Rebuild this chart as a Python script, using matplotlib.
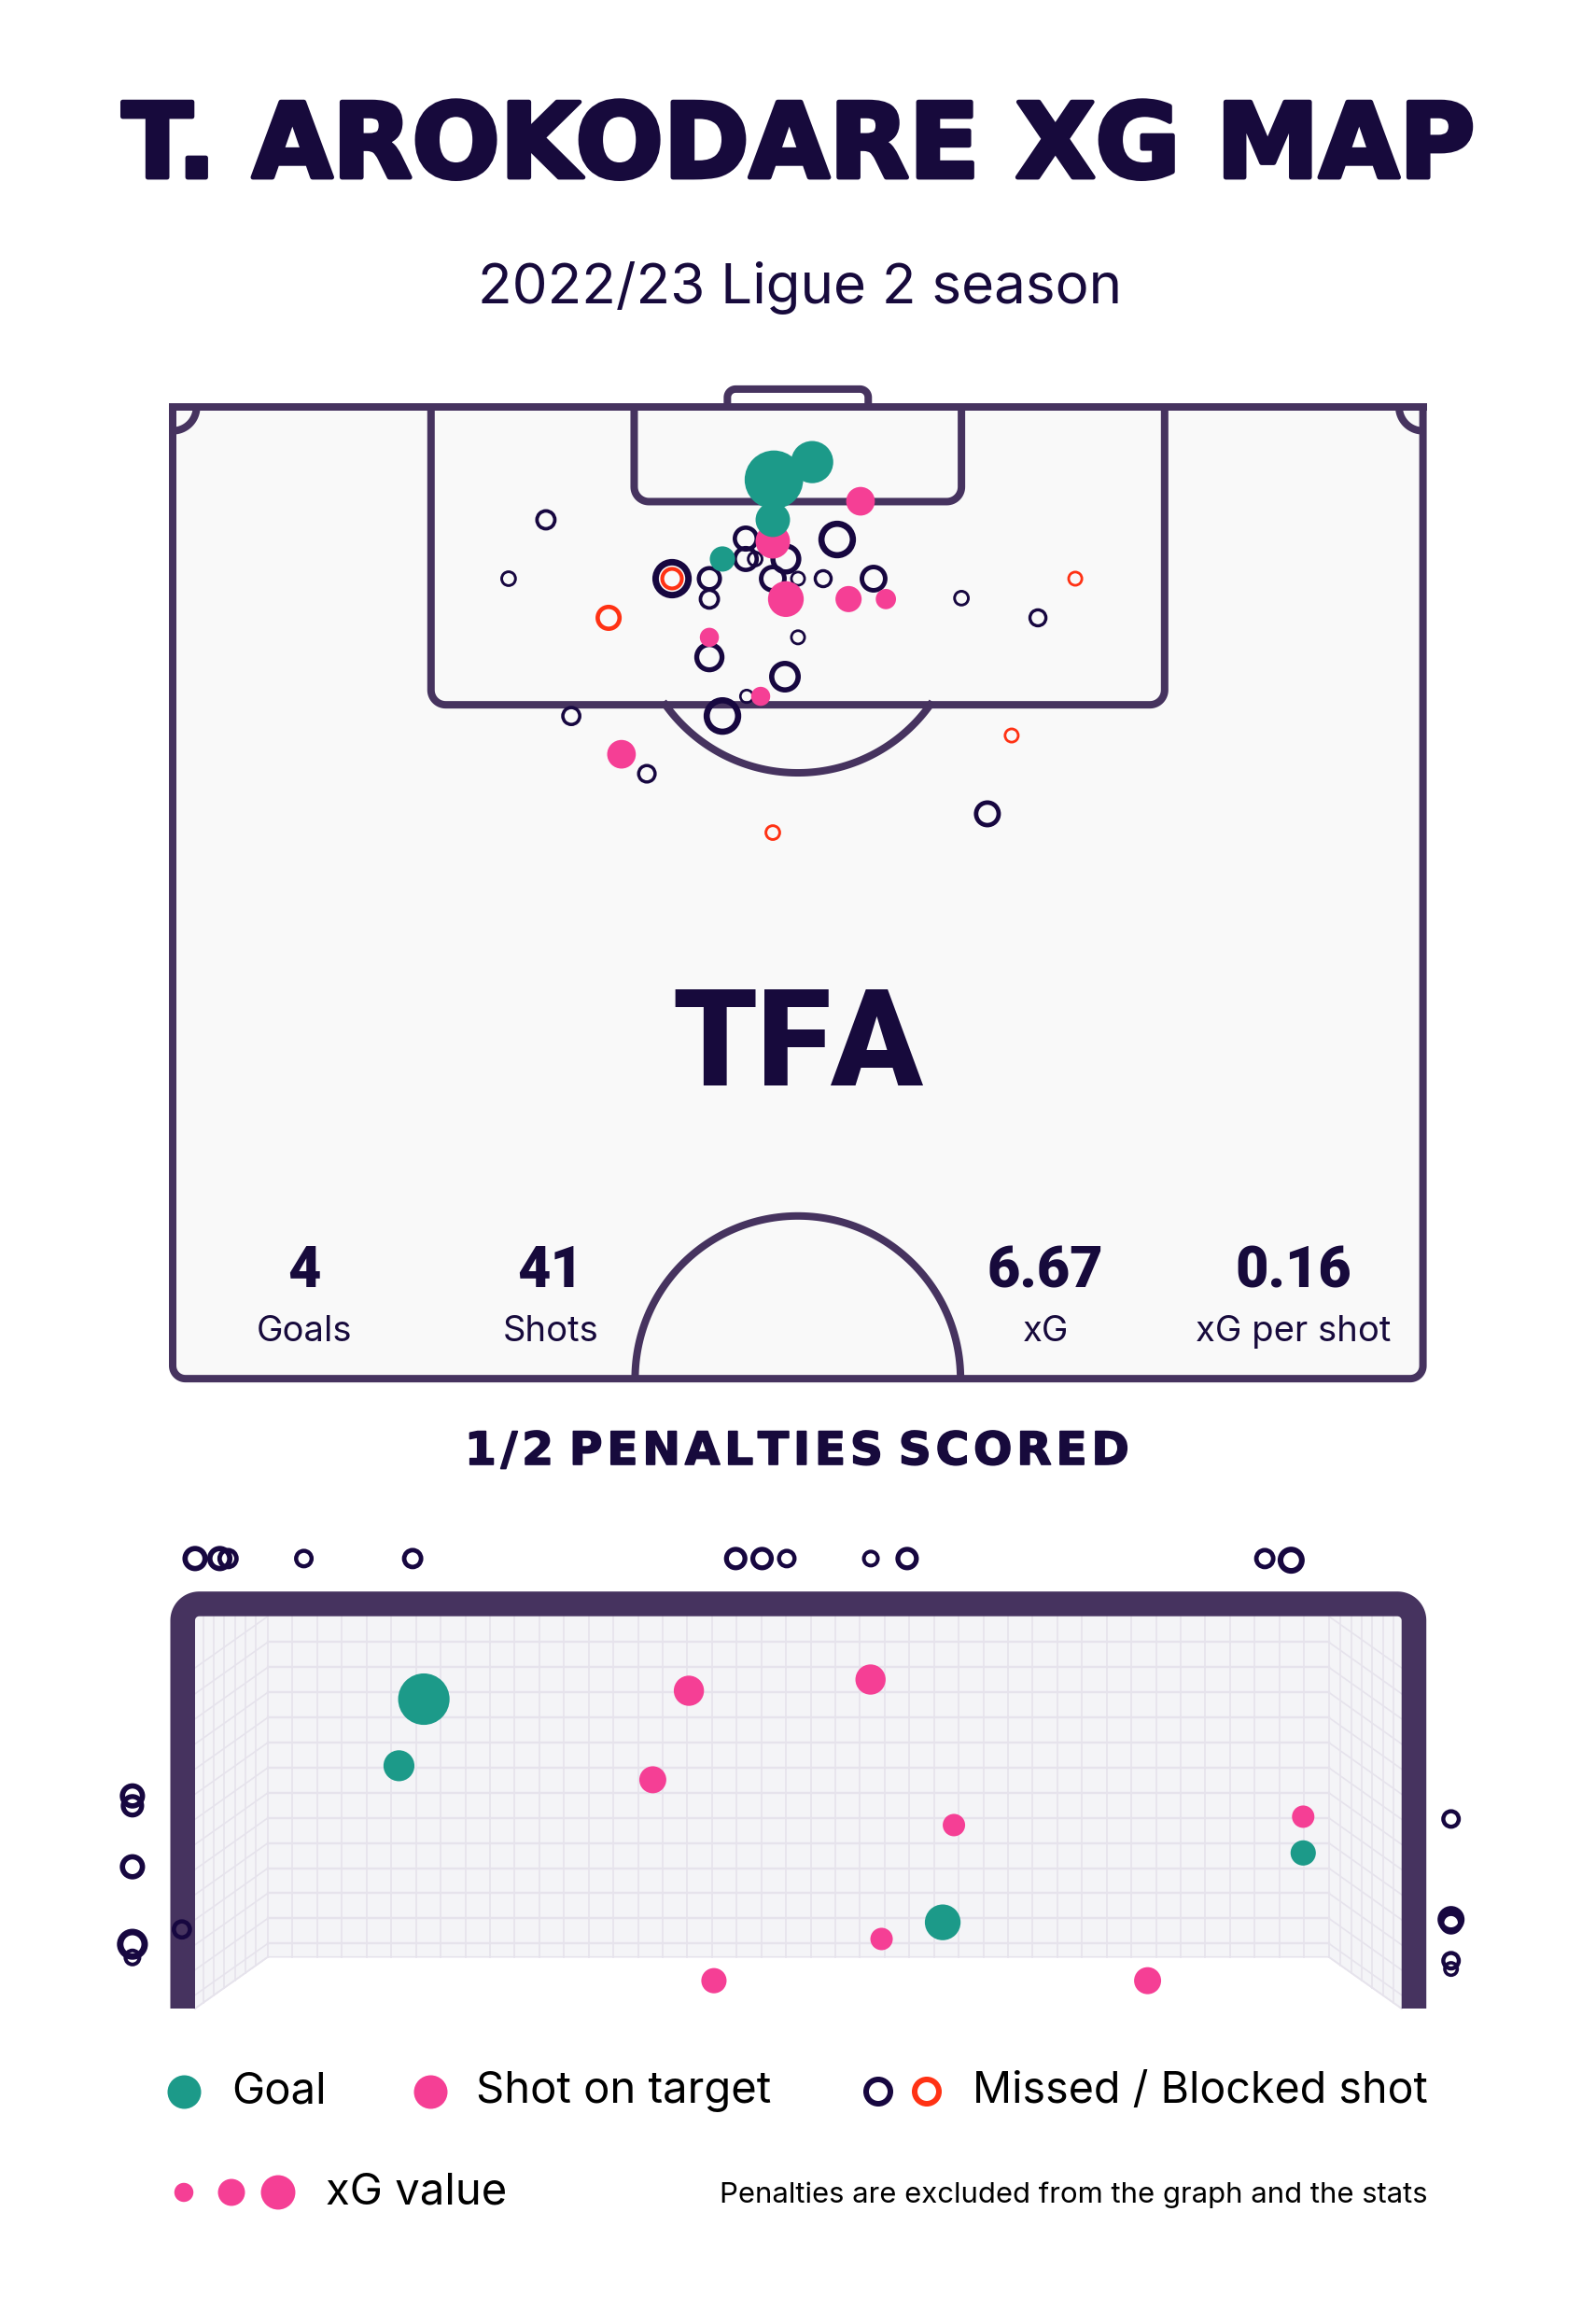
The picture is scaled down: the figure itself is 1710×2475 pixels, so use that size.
import numpy as np
import matplotlib.pyplot as plt
import matplotlib.patheffects as pe

W, H = 1710, 2475
DPI = 100
PT = 72 / DPI  # points per pixel

INK = '#170a3c'
LINE = '#46335f'
PITCH_BG = '#f9f9f9'
NET_BG = '#f4f4f7'
GRID = '#e6e3ec'
GOAL_C = '#1c9a89'
SOT_C = '#f53f95'
MISS_C = '#170740'
BLOCK_C = '#ff3214'

HEAVY = ['Roboto', 'DejaVu Sans']
REG = ['Inter', 'DejaVu Sans']

# ---------------- data: shots on the pitch (m across, m from goal line) -------------
goal_x = [32.70, 34.78, 32.64, 29.90]
goal_y = [3.96, 3.00, 6.14, 8.27]
goal_xg = [0.75, 0.39, 0.26, 0.14]

sot_x = [37.41, 32.64, 33.35, 36.76, 38.79, 29.19, 31.98, 24.41]
sot_y = [5.13, 7.31, 10.45, 10.45, 10.45, 12.53, 15.74, 18.89]
sot_xg = [0.18, 0.26, 0.28, 0.15, 0.09, 0.08, 0.08, 0.18]

miss_x = [20.30, 18.27, 27.16, 29.19, 29.19, 31.17, 31.17, 31.68, 33.35, 32.64, 34.01, 36.14,
          35.38, 38.12, 42.90, 47.06, 34.01, 29.19, 33.30, 31.22, 29.90, 21.68, 25.79, 44.31]
miss_y = [6.14, 9.34, 9.34, 9.34, 10.45, 7.16, 8.27, 8.27, 8.27, 9.34, 9.34, 7.21,
          9.34, 9.34, 10.40, 11.47, 12.53, 13.61, 14.67, 15.74, 16.81, 16.81, 19.95, 22.13]
miss_xg = [0.10, 0.06, 0.34, 0.14, 0.10, 0.15, 0.15, 0.06, 0.21, 0.17, 0.055, 0.31,
           0.08, 0.17, 0.06, 0.08, 0.055, 0.20, 0.22, 0.05, 0.31, 0.09, 0.085, 0.16]

block_x = [27.16, 23.71, 49.09, 45.63, 32.64]
block_y = [9.34, 11.47, 9.34, 17.87, 23.15]
block_xg = [0.12, 0.15, 0.055, 0.055, 0.06]

# ---------------- data: goal mouth (m from left post, m above ground) ----------------
gm_goal_x = [1.388, 1.237, 4.536, 6.723]
gm_goal_y = [1.877, 1.473, 0.523, 0.944]
gm_goal_v = [0.58, 0.21, 0.28, 0.14]

gm_sot_x = [2.996, 4.098, 2.777, 4.604, 4.165, 3.148, 5.779, 6.723]
gm_sot_y = [1.928, 1.996, 1.388, 1.113, 0.422, 0.169, 0.169, 1.164]
gm_sot_v = [0.20, 0.20, 0.16, 0.11, 0.11, 0.14, 0.16, 0.11]

gm_miss_x = [0.00, 0.15, 0.20, 0.66, 1.32, 3.28, 3.44, 3.59, 4.10, 4.32, 6.49, 6.65,
             -0.38, -0.38, -0.38, -0.38, -0.38, -0.08,
             7.62, 7.62, 7.62, 7.62, 7.62]
gm_miss_y = [2.73, 2.73, 2.73, 2.73, 2.73, 2.73, 2.73, 2.73, 2.73, 2.73, 2.73, 2.72,
             1.29, 1.23, 0.86, 0.39, 0.31, 0.48,
             1.15, 0.54, 0.52, 0.29, 0.24]
gm_miss_v = [0.14, 0.14, 0.10, 0.084, 0.10, 0.12, 0.12, 0.084, 0.069, 0.12, 0.10, 0.16,
             0.14, 0.12, 0.14, 0.21, 0.069, 0.09,
             0.084, 0.16, 0.12, 0.084, 0.055]

stat_values = ['4', '41', '6.67', '0.16']
stat_labels = ['Goals', 'Shots', 'xG', 'xG per shot']
legend_xg = [0.08, 0.16, 0.26]

# ---------------- helpers ----------------
SIZE_K = 72.4  # marker diameter in px for xG = 1 (area ~ xG)


def dot_s(v):
    d = SIZE_K * np.sqrt(np.asarray(v))
    return (d * PT) ** 2


def ring_s(v, ratio=0.165):
    d = SIZE_K * np.sqrt(np.asarray(v))
    lw = ratio * d
    return ((d - lw) * PT) ** 2, lw * PT


def px_axes(x0, y0, x1, y1):
    ax = fig.add_axes([x0 / W, 1 - y1 / H, (x1 - x0) / W, (y1 - y0) / H])
    ax.axis('off')
    return ax


def rounded(points, r, n=16):
    pts = np.asarray(points, dtype=float)
    xs, ys = [pts[0, 0]], [pts[0, 1]]
    for i in range(1, len(pts) - 1):
        p, q, s = pts[i - 1], pts[i], pts[i + 1]
        u = (p - q) / np.linalg.norm(p - q)
        v = (s - q) / np.linalg.norm(s - q)
        c = q + (u + v) * r
        a0 = np.arctan2(-v[1], -v[0])
        a1 = np.arctan2(-u[1], -u[0])
        da = (a1 - a0 + np.pi) % (2 * np.pi) - np.pi
        t = a0 + np.linspace(0, da, n)
        xs.extend(c[0] + r * np.cos(t))
        ys.extend(c[1] + r * np.sin(t))
    xs.append(pts[-1, 0])
    ys.append(pts[-1, 1])
    return np.array(xs), np.array(ys)


def fit_width(txt, target_px):
    bb = txt.get_window_extent(renderer=fig.canvas.get_renderer())
    txt.set_fontsize(txt.get_fontsize() * target_px / bb.width)


fig = plt.figure(figsize=(W / DPI, H / DPI), dpi=DPI, facecolor='white')

# ---------------- pitch ----------------
PW, PL = 68.0, 52.85
P_PX, P_OX, P_OY = 19.7, 185, 436
pbox = (150, 395, 1565, 1500)
pax = px_axes(*pbox)
pax.set_xlim((pbox[0] - P_OX) / P_PX, (pbox[2] - P_OX) / P_PX)
pax.set_ylim((pbox[3] - P_OY) / P_PX, (pbox[1] - P_OY) / P_PX)
LW = 8 * PT

xs, ys = rounded([(0, 0), (0, PL), (PW, PL), (PW, 0)], 0.7)
pax.fill(xs, ys, color=PITCH_BG, zorder=0)
pax.plot(xs, ys, color=LINE, lw=LW, solid_capstyle='projecting', zorder=1)
pax.plot([0, PW], [0, 0], color=LINE, lw=LW, solid_capstyle='projecting', zorder=1)

cx = PW / 2
for half_w, depth, r in [(19.95, 16.2, 0.8), (8.9, 5.15, 0.8), (3.83, -0.97, 0.45)]:
    xs, ys = rounded([(cx - half_w, 0), (cx - half_w, depth), (cx + half_w, depth), (cx + half_w, 0)], r)
    pax.plot(xs, ys, color=LINE, lw=LW, solid_capstyle='butt', zorder=1)

R_ARC, SPOT = 8.85, 11.05
a = np.arcsin((16.2 - SPOT) / R_ARC)
t = np.linspace(a, np.pi - a, 80)
pax.plot(cx + R_ARC * np.cos(t), SPOT + R_ARC * np.sin(t), color=LINE, lw=LW, zorder=1)
t = np.linspace(np.pi, 2 * np.pi, 120)
pax.plot(cx + R_ARC * np.cos(t), PL + R_ARC * np.sin(t), color=LINE, lw=LW, solid_capstyle='butt', zorder=1)
t = np.linspace(0, np.pi / 2, 30)
pax.plot(1.3 * np.cos(t), 1.3 * np.sin(t), color=LINE, lw=LW, solid_capstyle='butt', zorder=1)
pax.plot(PW - 1.3 * np.cos(t), 1.3 * np.sin(t), color=LINE, lw=LW, solid_capstyle='butt', zorder=1)

s, lw = ring_s(miss_xg)
pax.scatter(miss_x, miss_y, s=s, facecolors='none', edgecolors=MISS_C, linewidths=lw, zorder=3)
s, lw = ring_s(block_xg)
pax.scatter(block_x, block_y, s=s, facecolors='none', edgecolors=BLOCK_C, linewidths=lw, zorder=4)
pax.scatter(sot_x, sot_y, s=dot_s(sot_xg), color=SOT_C, linewidths=0, zorder=5)
pax.scatter(goal_x, goal_y, s=dot_s(goal_xg), color=GOAL_C, linewidths=0, zorder=6)

# ---------------- goal mouth ----------------
GW, GH = 7.32, 2.38
G_PX, G_OX, G_OY = 176.6, 209, 2152
gbox = (60, 1600, 1650, 2200)
gax = px_axes(*gbox)
gax.set_xlim((gbox[0] - G_OX) / G_PX, (gbox[2] - G_OX) / G_PX)
gax.set_ylim((G_OY - gbox[3]) / G_PX, (G_OY - gbox[1]) / G_PX)

BX, BY, DROP = 0.442, 0.313, 0.313
gax.fill([0, BX, GW - BX, GW, GW, 0], [0, BY, BY, 0, GH, GH], color=NET_BG, lw=0, zorder=0)
for x in np.linspace(BX, GW - BX, 44):
    gax.plot([x, x], [BY, GH], color=GRID, lw=1.2, zorder=1)
levels = np.linspace(0.395, 2.223, 13)
for y in levels:
    gax.plot([BX, GW - BX], [y, y], color=GRID, lw=1.7, zorder=1)
for y in np.r_[BY, levels, GH]:
    gax.plot([0, BX], [y - DROP, y], color=GRID, lw=1.2, zorder=1)
    gax.plot([GW, GW - BX], [y - DROP, y], color=GRID, lw=1.2, zorder=1)
for x in np.linspace(0.05, 0.37, 6):
    gax.plot([x, x], [x * BY / BX, GH], color=GRID, lw=1.2, zorder=1)
    gax.plot([GW - x, GW - x], [x * BY / BX, GH], color=GRID, lw=1.2, zorder=1)
gax.plot([0, BX, GW - BX, GW], [0, BY, BY, 0], color=GRID, lw=1.2, zorder=1)

FT = 26.5 / G_PX
xs, ys = rounded([(-FT / 2, 0), (-FT / 2, GH + FT / 2), (GW + FT / 2, GH + FT / 2), (GW + FT / 2, 0)], 0.1)
gax.plot(xs, ys, color=LINE, lw=26.5 * PT, solid_capstyle='butt', solid_joinstyle='round', zorder=2)

s, lw = ring_s(gm_miss_v, 0.21)
gax.scatter(gm_miss_x, gm_miss_y, s=s, facecolors='none', edgecolors=MISS_C, linewidths=lw, zorder=4, clip_on=False)
gax.scatter(gm_sot_x, gm_sot_y, s=dot_s(gm_sot_v), color=SOT_C, linewidths=0, zorder=5, clip_on=False)
gax.scatter(gm_goal_x, gm_goal_y, s=dot_s(gm_goal_v), color=GOAL_C, linewidths=0, zorder=6, clip_on=False)

# ---------------- texts and legend (pixel overlay) ----------------
lay = fig.add_axes([0, 0, 1, 1], facecolor='none')
lay.set_xlim(0, W)
lay.set_ylim(H, 0)
lay.axis('off')

title = lay.text(855, 190, 'T. AROKODARE XG MAP', ha='center', va='baseline', fontsize=80,
                 fontweight='bold', family=['DejaVu Sans'], color=INK,
                 path_effects=[pe.withStroke(linewidth=3.5, foreground=INK)])
fit_width(title, 1450)
sub = lay.text(857, 325, '2022/23 Ligue 2 season', ha='center', va='baseline', fontsize=43,
               family=REG, color=INK)
fit_width(sub, 690)
lay.text(855, 1163, 'TFA', ha='center', va='baseline', fontsize=104, fontweight='black',
         family=HEAVY, color=INK, zorder=2)

for x, v, lab in zip([326, 590, 1120, 1386], stat_values, stat_labels):
    lay.text(x, 1379, v, ha='center', va='baseline', fontsize=44, fontweight='black',
             family=HEAVY, color=INK)
    lay.text(x, 1437, lab, ha='center', va='baseline', fontsize=27.5, family=REG, color=INK)

hair = '\u200a'
pen = lay.text(854, 1569, ' '.join(hair.join(w) for w in '1/2 PENALTIES SCORED'.split()),
               ha='center', va='baseline', fontsize=34, fontweight='bold',
               family=['DejaVu Sans'], color=INK,
               path_effects=[pe.withStroke(linewidth=1.2, foreground=INK)])
fit_width(pen, 714)

ly = 2241
lay.scatter([197], [ly], s=(36 * PT) ** 2, color=GOAL_C, linewidths=0)
lay.text(248, 2253, 'Goal', ha='left', va='baseline', fontsize=34, family=REG, color='black')
lay.scatter([461], [ly], s=(36 * PT) ** 2, color=SOT_C, linewidths=0)
lay.text(510, 2253, 'Shot on target', ha='left', va='baseline', fontsize=34, family=REG, color='black')
lay.scatter([941, 993], [ly, ly], s=(26 * PT) ** 2, facecolors='none',
            edgecolors=[MISS_C, BLOCK_C], linewidths=6 * PT)
miss_t = lay.text(1042, 2253, 'Missed / Blocked shot', ha='left', va='baseline', fontsize=34,
                  family=REG, color='black')
fit_width(miss_t, 487)

lay.scatter([197, 248, 298], [2349] * 3, s=dot_s(legend_xg), color=SOT_C, linewidths=0)
lay.text(349, 2362, 'xG value', ha='left', va='baseline', fontsize=34, family=REG, color='black')
note = lay.text(1529, 2360, 'Penalties are excluded from the graph and the stats', ha='right',
                va='baseline', fontsize=22, family=REG, color='black')
fit_width(note, 760)

fig.savefig('out.png', dpi=DPI)
